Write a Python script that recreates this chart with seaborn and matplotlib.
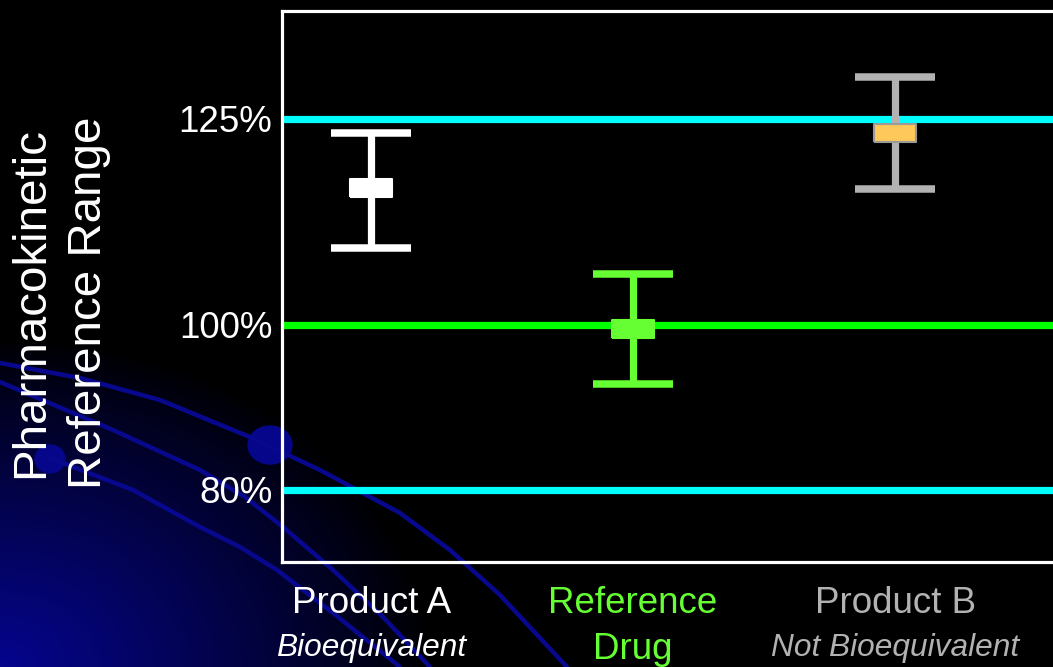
import numpy as np
import pandas as pd
import seaborn as sns
import matplotlib.pyplot as plt
import matplotlib.transforms as mtransforms
from matplotlib.patches import Ellipse

## chart values (percent of reference)
products = ["Product A", "Reference", "Product B"]
second_line = ["Bioequivalent", "Drug", "Not Bioequivalent"]
second_italic = [True, False, True]
point_est = [116.6, 99.5, 123.3]
lower_ci = [109.3, 92.8, 116.5]
upper_ci = [123.3, 106.2, 130.1]
ref_levels = [80, 100, 125]
ref_labels = ["80%", "100%", "125%"]

## styling per product
bar_colors = ["#FFFFFF", "#66FF33", "#B2B2B2"]
box_colors = ["#FFFFFF", "#66FF33", "#FFC85A"]
box_edges = ["#FFFFFF", "#66FF33", "#9A9A9A"]
level_colors = ["#00FFFF", "#00FF00", "#00FFFF"]

## slide template decoration (pixel coords of the background swooshes)
swoosh_1 = [(0, 363), (80, 378), (160, 400), (250, 437), (320, 470), (400, 513), (450, 550), (500, 595), (567, 667)]
swoosh_2 = [(0, 382), (113, 430), (200, 470), (245, 497), (283, 527), (333, 570), (383, 617), (430, 667)]
swoosh_3 = [(50, 458), (133, 490), (200, 527), (240, 547), (277, 570), (333, 613), (400, 667)]

sns.set_style("white")
plt.rcParams['font.family'] = ['Liberation Sans', 'DejaVu Sans']

W, H = 1053, 667
fig = plt.figure(figsize=(W / 100, H / 100), dpi=100, facecolor="black")

## background: navy glow from lower left corner + curves
bg = fig.add_axes([0, 0, 1, 1])
bg.set_zorder(0)
yy, xx = np.mgrid[0:H, 0:W]
r = np.sqrt((xx / 430.0) ** 2 + ((H - yy) / 330.0) ** 2)
glow = np.clip(1 - r, 0, 1) ** 0.9
img = np.zeros((H, W, 3))
img[..., 2] = 0.56 * glow
img[..., 0] = 0.02 * glow
img[..., 1] = 0.02 * glow
bg.imshow(img, extent=[0, W, H, 0], aspect="auto", interpolation="bilinear")
for sw in [swoosh_1, swoosh_2, swoosh_3]:
    sx, sy = zip(*sw)
    bg.plot(sx, sy, color="#08088E", lw=3.2, solid_capstyle="round", solid_joinstyle="round")
bg.add_patch(Ellipse((270, 445), 44, 38, color="#06068A"))
bg.add_patch(Ellipse((50, 459), 30, 28, color="#06068A"))
bg.set_xlim(0, W)
bg.set_ylim(H, 0)
bg.axis("off")

## main chart
ax = fig.add_axes([282 / W, 105 / H, 790 / W, 551 / H])
ax.set_zorder(1)
ax.patch.set_alpha(0)

for lvl, c in zip(ref_levels, level_colors):
    ax.axhline(lvl, color=c, lw=5.2, zorder=1)

xs = np.arange(len(products))
for i in range(len(products)):
    ax.errorbar(xs[i], point_est[i],
                yerr=[[point_est[i] - lower_ci[i]], [upper_ci[i] - point_est[i]]],
                fmt="none", ecolor=bar_colors[i], elinewidth=5.2,
                capsize=28.8, capthick=5.4, zorder=3)

df = pd.DataFrame({"x": xs, "est": point_est, "product": products})
box_marker = [(-1, -0.43), (1, -0.43), (1, 0.43), (-1, 0.43), (-1, -0.43)]
sns.scatterplot(data=df, x="x", y="est", hue="product", palette=box_colors,
                marker=box_marker, s=30 ** 2, edgecolor=box_edges, linewidth=1.5,
                legend=False, ax=ax, zorder=4)

ax.set_xlim(-0.34, -0.34 + 790 / 262.0)
ax.set_ylim(71.27, 138.06)

ax.set_yticks(ref_levels)
ax.set_yticklabels(ref_labels)
ax.tick_params(axis="y", length=0, pad=7, labelsize=26.5, labelcolor="white")

ax.set_xticks(xs)
ax.set_xticklabels([])
ax.tick_params(axis="x", length=0)
ax.set_xlabel("")
ax.set_ylabel("")

trans = mtransforms.blended_transform_factory(ax.transData, ax.transAxes)
for i, name in enumerate(products):
    ax.text(xs[i], -0.076, name, transform=trans, ha="center", va="center",
            fontsize=26.5, color=bar_colors[i])
    if second_italic[i]:
        ax.text(xs[i], -0.156, second_line[i], transform=trans, ha="center", va="center",
                fontsize=22.8, style="italic", color=bar_colors[i])
    else:
        ax.text(xs[i], -0.158, second_line[i], transform=trans, ha="center", va="center",
                fontsize=26.5, color=bar_colors[i])

for side in ["left", "top", "bottom"]:
    ax.spines[side].set_color("white")
    ax.spines[side].set_linewidth(2.3)
ax.spines["right"].set_visible(False)

fig.text(60 / W, 1 - 303 / H, "Pharmacokinetic\nReference Range", rotation=90,
         ha="center", va="center", fontsize=34.2, color="white", linespacing=1.42,
         multialignment="center")

fig.savefig("out.png", dpi=100, facecolor="black")
